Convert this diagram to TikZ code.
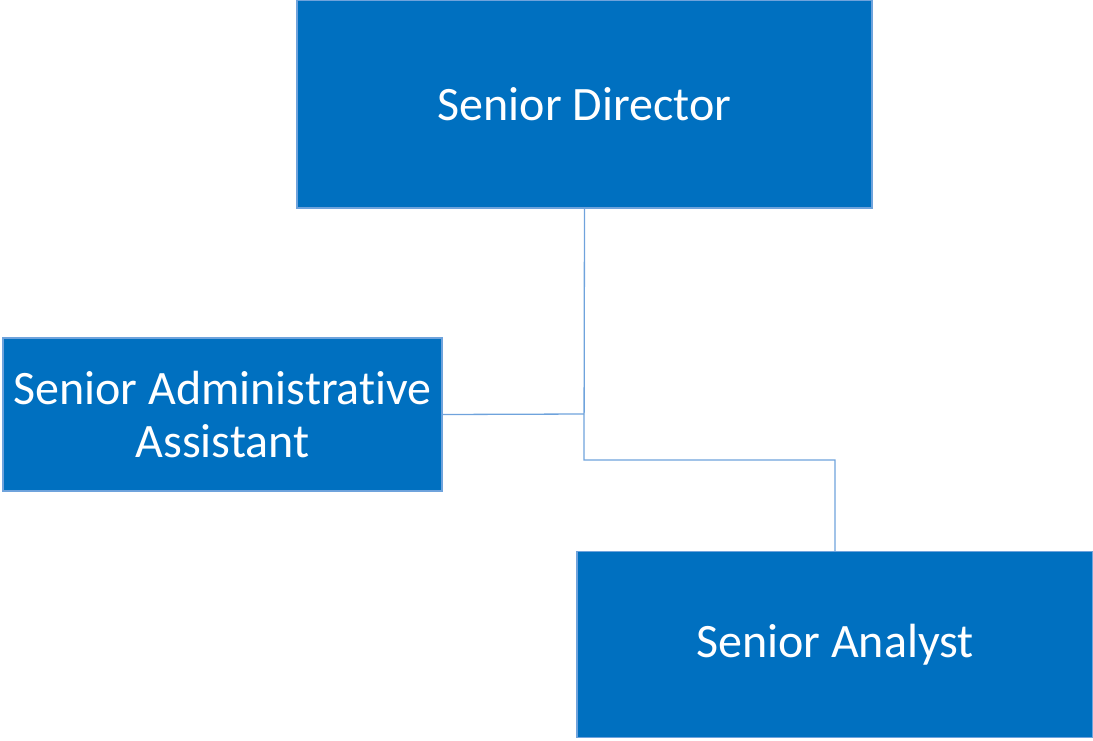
\documentclass[tikz,border=0pt]{standalone}
\usepackage{fontspec}
\setmainfont[Ligatures={NoCommon}]{Carlito}
\begin{document}
\begin{tikzpicture}[x=1pt,y=-1pt,
  orgbox/.style={draw=boxline,line width=1.5pt,fill=boxfill,text=white,align=center,
    font=\fontsize{48}{53}\selectfont,inner sep=0pt},
  conn/.style={draw=boxline,line width=1.3pt}]
\definecolor{boxfill}{HTML}{0070C0}
\definecolor{boxline}{HTML}{6FA3DC}
\useasboundingbox (0,0) rectangle (1093,740);
\node[orgbox,minimum width=575pt,minimum height=208pt] (dir) at (584.5,104) {Senior Director};
\node[orgbox,minimum width=439pt,minimum height=153pt] (asst) at (222.5,414.5) {Senior Administrative\\Assistant};
\node[orgbox,minimum width=516pt,minimum height=186pt] (ana) at (835,644.5) {Senior Analyst};
\coordinate (j1) at (584,414);
\coordinate (j2) at (584,460);
\coordinate (j3) at (835,460);
\draw[conn] (dir.south) -- (j2) -- (j3) -- (ana.north);
\draw[conn] (asst.east) -- (j1);
\end{tikzpicture}
\end{document}
